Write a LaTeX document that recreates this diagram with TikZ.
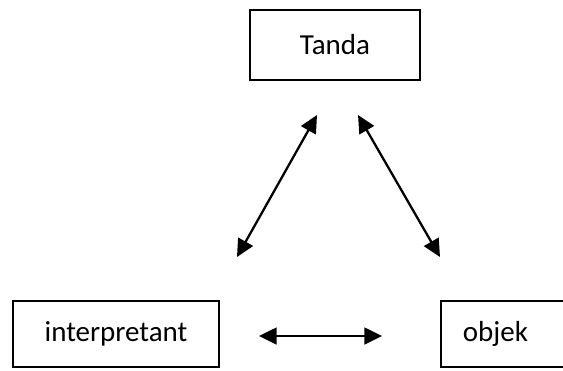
\documentclass[tikz,border=0pt]{standalone}
\usepackage{fontspec}
\setmainfont{Carlito}
\usetikzlibrary{arrows.meta}

\begin{document}
\begin{tikzpicture}[x=0.02cm, y=0.02cm,
    box/.style={draw, line width=1pt, inner sep=0pt, font=\fontsize{16.5}{20}\selectfont},
    link/.style={{Triangle[length=10pt,width=9.5pt]}-{Triangle[length=10pt,width=9.5pt]}, line width=1.3pt}]
	  \useasboundingbox (0,0) rectangle (563,370);

	  \node [box, line width=1.2pt, minimum width=170*0.02cm, minimum height=70*0.02cm] (tanda) at (335,325) {Tanda};
	  \node [box, minimum width=206*0.02cm, minimum height=66*0.02cm] (interp) at (116,36) {interpretant};
	  \node [box, anchor=west, minimum height=66*0.02cm, text width=100*0.02cm, align=left,
	         inner xsep=22*0.02cm] (objek) at (440,36) {objek};

	  \coordinate (tl) at (317,255);
	  \coordinate (il) at (237,113);
	  \coordinate (tr) at (358,255);
	  \coordinate (ob) at (440,113);
	  \coordinate (ir) at (259,34);
	  \coordinate (ol) at (382,34);

	  \draw [link] (tl) to (il);
	  \draw [link] (tr) to (ob);
	  \draw [link] (ir) to (ol);
	\end{tikzpicture}
\end{document}
